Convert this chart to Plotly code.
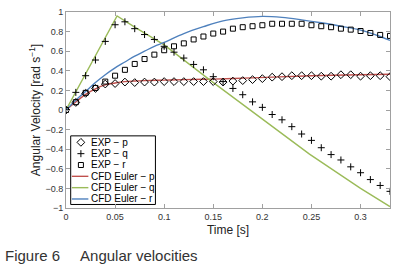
import plotly.graph_objects as go

# measured time samples (s)
t_exp = [round(0.01 * i, 2) for i in range(34)]

# experiment
exp_p = [0, 0.077, 0.17, 0.22, 0.265, 0.27, 0.285, 0.28, 0.285, 0.285,
         0.29, 0.29, 0.29, 0.29, 0.29, 0.29, 0.285, 0.295, 0.30, 0.31,
         0.32, 0.335, 0.34, 0.35, 0.35, 0.35, 0.345, 0.345, 0.36, 0.36,
         0.345, 0.35, 0.35, 0.34]
exp_q = [0, 0.18, 0.35, 0.51, 0.70, 0.87, 0.90, 0.83, 0.77, 0.72,
         0.65, 0.59, 0.53, 0.465, 0.41, 0.34, 0.29, 0.22, 0.156, 0.083,
         0.027, -0.046, -0.10, -0.17, -0.245, -0.31, -0.385, -0.455, -0.51, -0.58,
         -0.64, -0.71, -0.77, -0.83]
exp_r = [0, 0.08, 0.175, 0.225, 0.29, 0.35, 0.41, 0.47, 0.52, 0.565,
         0.61, 0.65, 0.68, 0.72, 0.75, 0.78, 0.80, 0.83, 0.845, 0.855,
         0.865, 0.88, 0.88, 0.88, 0.88, 0.865, 0.855, 0.845, 0.83, 0.82,
         0.806, 0.786, 0.766, 0.756]

# CFD Euler
t_cfd_p = [0, 0.01, 0.02, 0.03, 0.04, 0.05, 0.06, 0.07, 0.08, 0.10, 0.12, 0.15, 0.18, 0.21, 0.25, 0.30, 0.33]
cfd_p = [0, 0.083, 0.16, 0.216, 0.256, 0.276, 0.29, 0.296, 0.30, 0.305, 0.31, 0.315, 0.325, 0.335, 0.35, 0.36, 0.365]

t_cfd_q = [0, 0.052, 0.07, 0.10, 0.146, 0.204, 0.248, 0.30, 0.33]
cfd_q = [0, 0.96, 0.845, 0.665, 0.31, -0.12, -0.45, -0.80, -0.985]

t_cfd_r = [0, 0.01, 0.02, 0.03, 0.04, 0.05, 0.06, 0.07, 0.08, 0.09, 0.10, 0.12, 0.14, 0.16, 0.18, 0.20,
           0.22, 0.24, 0.26, 0.28, 0.30, 0.32, 0.33]
cfd_r = [0, 0.10, 0.19, 0.28, 0.36, 0.43, 0.49, 0.55, 0.60, 0.65, 0.69, 0.78, 0.85, 0.91, 0.94, 0.955,
         0.945, 0.92, 0.89, 0.855, 0.815, 0.75, 0.71]

exp_names = ["EXP \u2212 p", "EXP \u2212 q", "EXP \u2212 r"]
cfd_names = ["CFD Euler \u2212 p", "CFD Euler \u2212 q", "CFD Euler \u2212 r"]

RED, GREEN, BLUE = "#c0504d", "#9bbb59", "#4f81bd"
AXIS = "#a0a0a0"
FONT = "Liberation Sans, Arial, sans-serif"

exp_styles = [
    dict(symbol="diamond-open", size=6, color="black", line=dict(width=1, color="black")),
    dict(symbol="cross-thin-open", size=5, color="black", line=dict(width=1, color="black")),
    dict(symbol="square-open", size=5, color="black", line=dict(width=1, color="black")),
]
cfd_colors = [RED, GREEN, BLUE]

fig = go.Figure()

# CFD lines
for tt, vv, name, col, shape in zip([t_cfd_p, t_cfd_q, t_cfd_r], [cfd_p, cfd_q, cfd_r],
                                    cfd_names, cfd_colors, ["spline", "linear", "spline"]):
    fig.add_trace(go.Scatter(x=tt, y=vv, mode="lines", name=name,
                             line=dict(color=col, width=1.4, shape=shape), showlegend=False))

# experiment markers
for vv, name, st in zip([exp_p, exp_q, exp_r], exp_names, exp_styles):
    fig.add_trace(go.Scatter(x=t_exp, y=vv, mode="markers", name=name,
                             marker=st, showlegend=False))

# compact legend (MATLAB style), drawn on a hidden 0..1 overlay axis
row_top, row_step = 0.335, 0.0578
ann = []
for i, (name, st) in enumerate(zip(exp_names, exp_styles)):
    ry = row_top - i * row_step
    fig.add_trace(go.Scatter(x=[0.046], y=[ry], mode="markers", marker=st,
                             xaxis="x2", yaxis="y2", showlegend=False, hoverinfo="skip"))
    ann.append(dict(x=0.071, y=ry, text=name))
for j, (name, col) in enumerate(zip(cfd_names, cfd_colors)):
    ry = row_top - (j + 3) * row_step
    fig.add_trace(go.Scatter(x=[0.018, 0.069], y=[ry, ry], mode="lines",
                             line=dict(color=col, width=1.4),
                             xaxis="x2", yaxis="y2", showlegend=False, hoverinfo="skip"))
    ann.append(dict(x=0.071, y=ry, text=name))

for a in ann:
    fig.add_annotation(x=a["x"], y=a["y"], text=a["text"], xref="paper", yref="paper",
                       xanchor="left", yanchor="middle", showarrow=False,
                       font=dict(size=10, color="black", family=FONT))

fig.add_shape(type="rect", xref="paper", yref="paper", x0=0.0145, x1=0.276, y0=0.018, y1=0.368,
              line=dict(color="black", width=1), fillcolor="white", layer="below")

# figure caption
fig.add_annotation(x=-0.194, y=-0.244, xref="paper", yref="paper", xanchor="left", yanchor="middle",
                   text="Figure 6\u00a0\u00a0\u00a0\u00a0 Angular velocities", showarrow=False,
                   font=dict(size=15, color="#333333", family=FONT))

axis_common = dict(showgrid=False, zeroline=False, showline=True, linecolor=AXIS, linewidth=1,
                   mirror="ticks", ticks="inside", ticklen=4, tickcolor=AXIS,
                   tickfont=dict(size=9, color="#333333", family=FONT))

fig.update_layout(
    width=405, height=271,
    margin=dict(l=66, r=15, t=7, b=63),
    plot_bgcolor="white", paper_bgcolor="white",
    showlegend=False,
    xaxis=dict(range=[0, 0.33], dtick=0.05, tick0=0,
               title=dict(text="Time [s]", font=dict(size=12, color="#222222", family=FONT), standoff=4),
               **axis_common),
    yaxis=dict(range=[-1, 1], dtick=0.2, tick0=0,
               title=dict(text="Angular Velocity [rad s<sup>\u22121</sup>]",
                          font=dict(size=12, color="#222222", family=FONT), standoff=2),
               **axis_common),
    xaxis2=dict(overlaying="x", anchor="y2", range=[0, 1], visible=False),
    yaxis2=dict(overlaying="y", anchor="x2", range=[0, 1], visible=False),
)

fig.write_html("out.html", config={"displayModeBar": False},
               post_script="document.body.style.margin='0';")
